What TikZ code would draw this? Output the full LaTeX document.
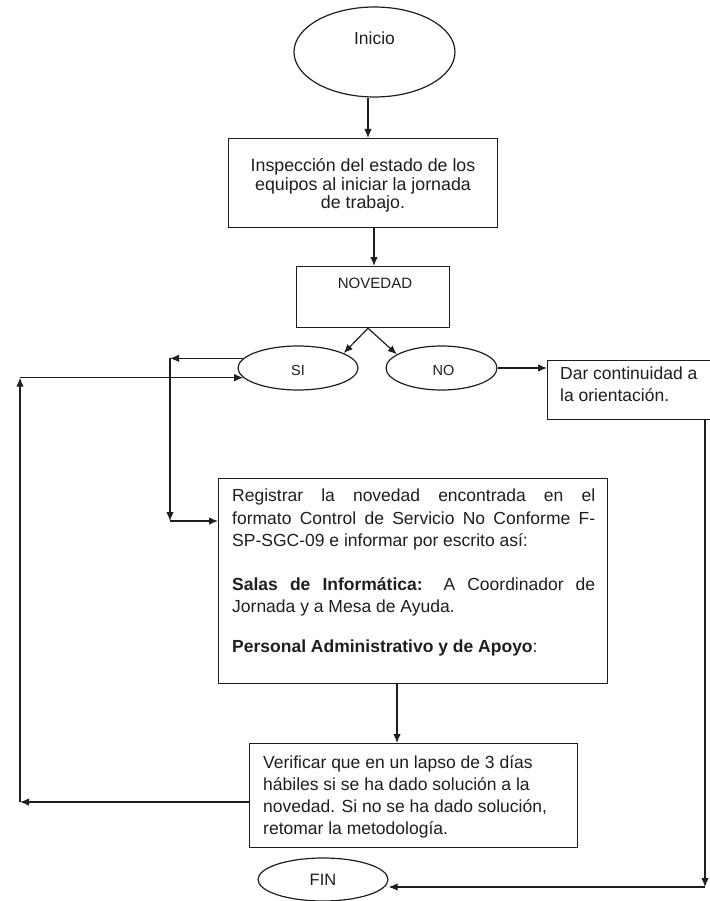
\documentclass[tikz,border=0pt]{standalone}
\usepackage{fontspec}
\setmainfont{Liberation Sans}
\usetikzlibrary{arrows.meta,shapes.geometric,calc}
\definecolor{ink}{HTML}{1E1E1E}
\begin{document}
\begin{tikzpicture}[x=1pt,y=-1pt,
  box/.style={draw=ink, line width=1.2pt, rectangle, inner sep=0pt, anchor=north west},
  oval/.style={draw=ink, line width=1.2pt, ellipse, inner sep=0pt},
  txt/.style={text=ink, inner sep=0pt, font=\fontsize{17.5}{22}\selectfont},
  arr/.style={draw=ink, line width=1.2pt, -{Latex[length=9pt,width=7.5pt]}}]
\useasboundingbox (0,0) rectangle (709,901);

% nodes
\node[oval, minimum width=161pt, minimum height=90pt] (ini) at (374.5,52) {};
\node[txt] (init) at (374.5,38) {Inicio};

\node[box, minimum width=269pt, minimum height=89pt] (insp) at (228,138) {};
\node[txt, align=center, anchor=north, font=\fontsize{17.8}{18.7}\selectfont] (inspt) at (363,158)
  {Inspección del estado de los\\equipos al iniciar la jornada\\de trabajo.};

\node[box, minimum width=153pt, minimum height=61pt] (nov) at (296,266) {};
\node[txt, font=\fontsize{15}{18}\selectfont] (novt) at (375,283) {NOVEDAD};

\node[oval, minimum width=120pt, minimum height=44pt] (si) at (298,368) {};
\node[txt, font=\fontsize{14.5}{17}\selectfont] (sit) at (298,371) {SI};
\node[oval, minimum width=111pt, minimum height=44pt] (no) at (441.5,368) {};
\node[txt, font=\fontsize{14.5}{17}\selectfont] (not) at (443.5,371) {NO};

\node[box, minimum width=166pt, minimum height=59pt] (dar) at (547,360) {};
\node[txt, align=left, anchor=north west] (dart) at (560,367) {Dar continuidad a\\la orientación.};

\node[box, minimum width=389pt, minimum height=205pt] (reg) at (218,478) {};
\node[txt, text width=363pt, align=justify, anchor=north west, font=\fontsize{17.5}{22.5}\selectfont] (regt) at (232,489)
  {\parindent=0pt Registrar la novedad encontrada en el\linebreak formato Control de Servicio No Conforme F-\linebreak SP-SGC-09 e informar por escrito así:\par\vspace{21pt}%
   \textbf{Salas de Informática:} A Coordinador de\linebreak Jornada y a Mesa de Ayuda.\par\vspace{17.5pt}%
   \textbf{Personal Administrativo y de Apoyo}:\par};

\node[box, minimum width=328pt, minimum height=104pt] (ver) at (249,743) {};
\node[txt, align=left, anchor=north west] (vert) at (263,755)
  {Verificar que en un lapso de 3 días\\hábiles si se ha dado solución a la\\novedad. Si no se ha dado solución,\\retomar la metodología.};

\node[oval, minimum width=130pt, minimum height=43pt] (fin) at (323,879.5) {};
\node[txt, font=\fontsize{16.5}{20}\selectfont] (fint) at (323,880) {FIN};

% helper coordinates
\coordinate (a1) at (368,0);
\coordinate (a2) at (374,0);
\coordinate (a4) at (397,0);
\coordinate (L1) at (170,0);
\coordinate (R1) at (0,521);
\coordinate (L2) at (20,802);
\coordinate (R2) at (705,887);

% connectors
\draw[arr] (ini.south -| a1) -- (insp.north -| a1);
\draw[arr] (insp.south -| a2) -- (nov.north -| a2);
\draw[arr] (nov.south -| a1) -- (si.18);
\draw[arr] (nov.south -| a1) -- (no.163);
\draw[arr] (no.east) -- (no.east -| dar.west);

\draw[arr] (si.170) -- (si.170 -| L1);
\draw[arr] (si.170 -| L1) -- (L1 |- R1);
\draw[arr] (L1 |- R1) -- (reg.west |- R1);

\draw[arr] (reg.south -| a4) -- (ver.north -| a4);

\draw[arr] (ver.west |- L2) -- (L2);
\draw[arr] (L2) -- (L2 |- si.190);
\draw[arr] (L2 |- si.190) -- (si.190);

\draw[arr] (dar.south -| R2) -- (R2);
\draw[arr] (R2) -- (fin.east |- R2);
\end{tikzpicture}
\end{document}
